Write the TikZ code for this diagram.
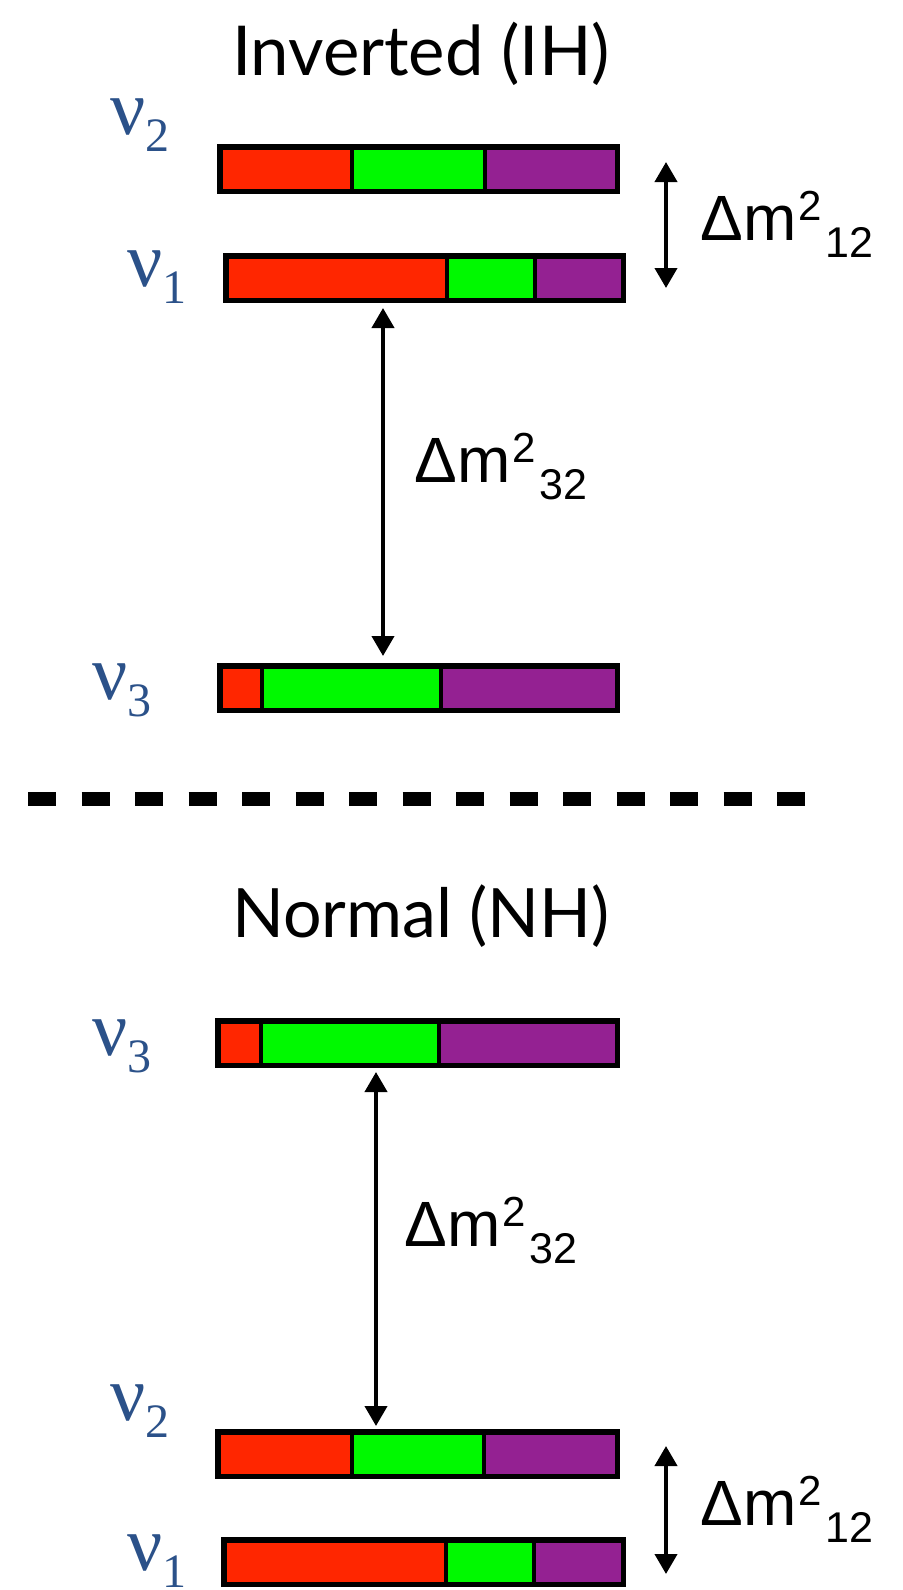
\documentclass[tikz,border=0pt]{standalone}
\usepackage{fontspec}
\usepackage{graphicx}
\setmainfont{Liberation Serif}
\newfontfamily\arialfont{Liberation Sans}
\newfontfamily\titlefont{Lato}
\usetikzlibrary{arrows.meta,fit}
\definecolor{barred}{HTML}{FF2600}
\definecolor{bargreen}{HTML}{00F900}
\definecolor{barpurple}{HTML}{942192}
\definecolor{nublue}{HTML}{2B5189}
\tikzset{
  barframe/.style={draw=black, line width=2.75pt, inner sep=0pt, outer sep=0pt},
  divider/.style={draw=black, line width=2.25pt},
  dmarrow/.style={line width=2pt, {Triangle[length=10pt,width=11pt]}-{Triangle[length=10pt,width=11pt]}},
  nulab/.style={anchor=base west, inner sep=0pt, text=nublue},
  dmlab/.style={anchor=base west, inner sep=0pt, text=black},
  titlelab/.style={anchor=base, inner sep=0pt, text=black},
  sepline/.style={line width=7pt, dash pattern=on 14pt off 12.75pt}
}
\newcommand\massbar[7]{%
  \fill[barred] (#2,#3) rectangle (#6,#5);
  \fill[bargreen] (#6,#3) rectangle (#7,#5);
  \fill[barpurple] (#7,#3) rectangle (#4,#5);
  \draw[divider] (#6,#3) -- (#6,#5);
  \draw[divider] (#7,#3) -- (#7,#5);
  \node[barframe, fit={(#2,#3) (#4,#5)}] (#1) {};
}
\newcommand\nutext[1]{{\fontsize{39}{39}\selectfont ν}\raisebox{-8.5pt}{\fontsize{24}{24}\selectfont #1}}
\newcommand\dmtext[1]{\arialfont\fontsize{32}{32}\selectfont Δm\kern1pt\raisebox{10pt}{\fontsize{21}{21}\selectfont 2}\kern2pt\raisebox{-8.5pt}{\fontsize{21.5}{21.5}\selectfont #1}}
\newcommand\titletext[1]{\resizebox{189pt}{!}{\titlefont\fontsize{31}{31}\selectfont #1}}
\begin{document}
\begin{tikzpicture}[x=0.5pt,y=-0.5pt]
\useasboundingbox (0,0) rectangle (903,1590);
% ---------- Inverted hierarchy ----------
\node[titlelab] (ihtitle) at (421,75) {\titletext{Inverted (IH)}};
\massbar{ihtwo}{219.75}{146.75}{617.25}{191.25}{352}{485}
\massbar{ihone}{225.75}{255.75}{623.25}{300.25}{447}{535}
\massbar{ihthree}{219.75}{665.75}{617.25}{710.25}{262}{441}
\node[nulab] (ihnutwo) at (110,134) {\nutext{2}};
\node[nulab] (ihnuone) at (127,286) {\nutext{1}};
\node[nulab] (ihnuthree) at (92,699) {\nutext{3}};
\coordinate (ihatop) at (666,162);
\coordinate (ihabot) at (666,288);
\draw[dmarrow] (ihatop) -- (ihabot);
\node[dmlab] (ihdmsmall) at (700,240) {\dmtext{12}};
\coordinate (ihbtop) at (383,308);
\coordinate (ihbbot) at (383,656);
\draw[dmarrow] (ihbtop) -- (ihbbot);
\node[dmlab] (ihdmbig) at (414,482) {\dmtext{32}};
% ---------- separator ----------
\draw[sepline] (28,799) -- (805,799);
% ---------- Normal hierarchy ----------
\node[titlelab] (nhtitle) at (421,937) {\titletext{Normal (NH)}};
\massbar{nhthree}{217.75}{1020.75}{617.25}{1065.25}{261}{439}
\massbar{nhtwo}{217.75}{1431.75}{617.25}{1476.25}{352}{484}
\massbar{nhone}{223.75}{1539.75}{623.25}{1584.25}{446}{534}
\node[nulab] (nhnuthree) at (92,1055) {\nutext{3}};
\node[nulab] (nhnutwo) at (110,1420) {\nutext{2}};
\node[nulab] (nhnuone) at (127,1570) {\nutext{1}};
\coordinate (nhbtop) at (376,1072);
\coordinate (nhbbot) at (376,1426);
\draw[dmarrow] (nhbtop) -- (nhbbot);
\node[dmlab] (nhdmbig) at (404,1246) {\dmtext{32}};
\coordinate (nhatop) at (666,1446);
\coordinate (nhabot) at (666,1574);
\draw[dmarrow] (nhatop) -- (nhabot);
\node[dmlab] (nhdmsmall) at (700,1525) {\dmtext{12}};
\end{tikzpicture}
\end{document}
